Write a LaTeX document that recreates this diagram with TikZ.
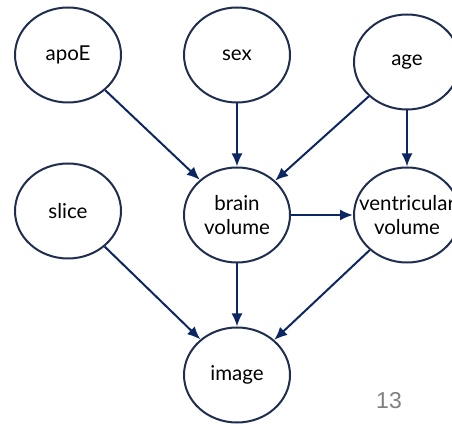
\documentclass[tikz,border=0pt]{standalone}
\usepackage{fontspec}
\setmainfont{Lato}
\newfontfamily\numfont{Liberation Sans}
\usetikzlibrary{shapes.geometric, arrows.meta}
\definecolor{ring}{RGB}{31,45,79}
\definecolor{edge}{RGB}{12,38,100}
\begin{document}
\begin{tikzpicture}[x=1pt, y=1pt,
        var/.style={draw=ring, ellipse, line width=2pt, minimum width=106pt,
          minimum height=95pt, inner sep=0pt, align=center,
          font=\fontsize{20.5}{24}\selectfont},
        varlbl/.style={align=center, inner sep=0pt,
          font=\fontsize{20.5}{24}\selectfont},
        dep/.style={-{Latex[length=13pt, width=11pt]}, draw=edge, line width=2pt},
      ]
        \useasboundingbox (0,0) rectangle (452,423);

        % Top row
        \node[var] (apoe) at (68, 368) {apoE};
        \node[var] (sex)  at (237, 368) {sex};
        \node[var] (age)  at (407, 361) {age};

        % Middle row
        \node[var] (slice) at (68, 212) {slice};
        \node[var] (brain) at (237, 208) {brain\\volume};
        \node[var] (vent)  at (407, 208) {};
        \node[varlbl] (ventlbl) at (vent) {ventricular\\volume};

        % Bottom
        \node[var] (img) at (237, 48) {image};

        % Edges
        \draw[dep] (apoe) -- (brain);
        \draw[dep] (sex) -- (brain);
        \draw[dep] (age) -- (brain);
        \draw[dep] (age) -- (vent);
        \draw[dep] (brain) -- (vent);
        \draw[dep] (slice) -- (img);
        \draw[dep] (brain) -- (img);
        \draw[dep] (vent) -- (img);

        \node[font=\numfont\fontsize{23}{27}\selectfont, text=gray] (pg) at (389, 22) {13};
      \end{tikzpicture}
\end{document}
